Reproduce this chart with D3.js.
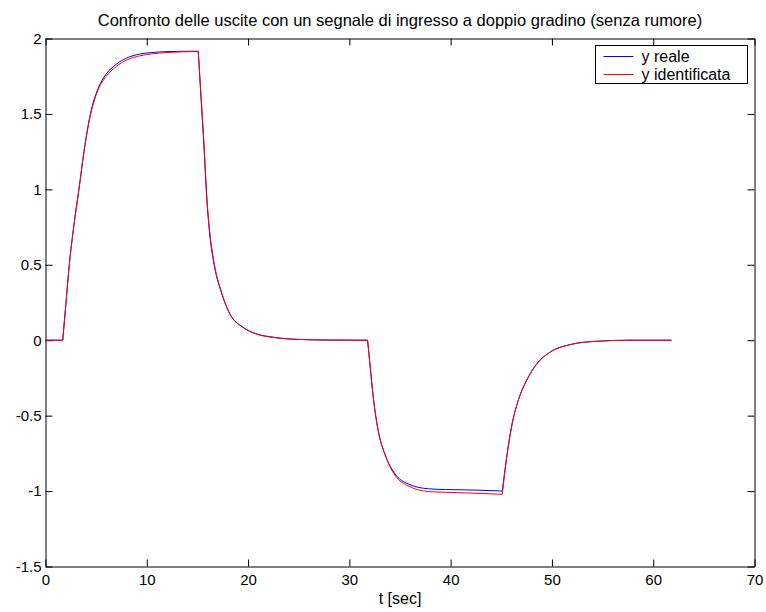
<!DOCTYPE html>
<html>
<head>
<meta charset="utf-8">
<script src="https://cdn.jsdelivr.net/npm/d3@7/dist/d3.min.js"></script>
<style>
  html, body { margin: 0; padding: 0; background: #fff; }
  svg { display: block; }
  text { font-family: "Liberation Sans", Arial, Helvetica, sans-serif; fill: #000; }
</style>
</head>
<body>
<svg id="chart" width="766" height="612"></svg>
<script>
// Sample times (s) and the two output signals
const tempo = [
  0, 1.7, 2.0, 2.35, 2.8, 3.3, 3.8, 4.4, 4.8, 5.2, 6.0, 7.0, 8.0, 9.3, 10.5, 12.0, 15.08,
  15.35, 15.65, 15.91, 16.17, 16.63, 17.3, 18.2, 19.5, 20.85, 22.5, 25.1, 28.0, 31.8,
  32.03, 32.36, 32.85, 33.5, 34.5, 35.8, 37.8, 39.5, 41.4, 43.2, 45.1,
  45.53, 46.0, 46.67, 47.5, 48.5, 49.8, 51.8, 54.4, 57.7, 61.8
];
const yReale = [
  0, 0, 0.23, 0.50, 0.76, 1.00, 1.25, 1.49, 1.595, 1.67, 1.765, 1.83, 1.87, 1.897, 1.907, 1.913, 1.916,
  1.61, 1.28, 0.95, 0.73, 0.506, 0.33, 0.175, 0.086, 0.042, 0.02, 0.005, 0.001, 0,
  -0.157, -0.378, -0.60, -0.753, -0.886, -0.952, -0.985, -0.990, -0.992, -0.995, -1.0,
  -0.776, -0.577, -0.40, -0.267, -0.157, -0.08, -0.029, -0.007, 0, 0
];
const yIdentificata = [
  0, 0, 0.23, 0.50, 0.76, 1.00, 1.25, 1.48, 1.585, 1.66, 1.75, 1.815, 1.857, 1.885, 1.898, 1.907, 1.914,
  1.63, 1.30, 0.97, 0.75, 0.52, 0.335, 0.175, 0.085, 0.04, 0.018, 0.005, 0.001, 0,
  -0.157, -0.378, -0.60, -0.755, -0.895, -0.965, -1.003, -1.008, -1.012, -1.016, -1.022,
  -0.78, -0.58, -0.40, -0.267, -0.157, -0.08, -0.029, -0.007, 0, 0
];
// instants where the input steps (sharp corners in the response)
const istantiGradino = [1.7, 15.08, 31.8, 45.1];
const xTicks = [0, 10, 20, 30, 40, 50, 60, 70];
const yTicks = [-1.5, -1, -0.5, 0, 0.5, 1, 1.5, 2];
const legendLabels = ["y reale", "y identificata"];
const seriesColors = ["#0000ff", "#ff0000"];
const titolo = "Confronto delle uscite con un segnale di ingresso a doppio gradino (senza rumore)";
const etichettaX = "t [sec]";

const svg = d3.select("#chart");
const plotL = 45.5, plotR = 754.5, plotT = 38.5, plotB = 566.5;

const x = d3.scaleLinear().domain([0, 70]).range([plotL, plotR]);
const y = d3.scaleLinear().domain([-1.5, 2]).range([plotB, plotT]);

const tickLen = 7;
const fmt = d => String(d);

const gx = svg.append("g").attr("transform", `translate(0,${plotB})`)
  .call(d3.axisBottom(x).tickValues(xTicks).tickFormat(fmt).tickSize(-tickLen).tickSizeOuter(0).tickPadding(8));
const gxTop = svg.append("g").attr("transform", `translate(0,${plotT})`)
  .call(d3.axisTop(x).tickValues(xTicks).tickFormat("").tickSize(-tickLen).tickSizeOuter(0));
const gy = svg.append("g").attr("transform", `translate(${plotL},0)`)
  .call(d3.axisLeft(y).tickValues(yTicks).tickFormat(fmt).tickSize(-tickLen).tickSizeOuter(0).tickPadding(4));
const gyRight = svg.append("g").attr("transform", `translate(${plotR},0)`)
  .call(d3.axisRight(y).tickValues(yTicks).tickFormat("").tickSize(-tickLen).tickSizeOuter(0));

[gx, gxTop, gy, gyRight].forEach(g => {
  g.selectAll("path.domain").attr("stroke", "#000").attr("stroke-width", 1);
  g.selectAll(".tick line").attr("stroke", "#000").attr("stroke-width", 1);
  g.selectAll(".tick text").attr("font-size", 15).attr("fill", "#000")
    .attr("font-family", '"Liberation Sans", Arial, sans-serif');
});

// the two output curves: smooth within each step interval, sharp at the steps
const segLine = d3.line()
  .x(d => x(d[0]))
  .y(d => y(d[1]))
  .curve(d3.curveMonotoneX);

function pathFor(vals) {
  const pts = tempo.map((t, i) => [t, vals[i]]);
  const cuts = [0, ...istantiGradino, Infinity];
  let d = "";
  for (let s = 0; s < cuts.length - 1; s++) {
    const seg = pts.filter(p => p[0] >= cuts[s] && p[0] <= cuts[s + 1]);
    if (seg.length > 1) d += segLine(seg);
  }
  return d;
}

[yReale, yIdentificata].forEach((vals, k) => {
  svg.append("path")
    .attr("d", pathFor(vals))
    .attr("fill", "none")
    .attr("stroke", seriesColors[k])
    .attr("stroke-width", 1)
    .attr("stroke-linejoin", "round");
});

// title and axis label
svg.append("text").attr("x", (plotL + plotR) / 2).attr("y", 26)
  .attr("text-anchor", "middle").attr("font-size", 16.5).text(titolo);
svg.append("text").attr("x", (plotL + plotR) / 2).attr("y", 604)
  .attr("text-anchor", "middle").attr("font-size", 16).text(etichettaX);

// legend
const lg = svg.append("g");
const lgX = 595.5, lgY = 45.5, lgW = 152, lgH = 38;
lg.append("rect").attr("x", lgX).attr("y", lgY).attr("width", lgW).attr("height", lgH)
  .attr("fill", "#fff").attr("stroke", "#000").attr("stroke-width", 1);
legendLabels.forEach((lab, i) => {
  const ly = lgY + 11 + i * 18;
  lg.append("line").attr("x1", lgX + 8).attr("x2", lgX + 38)
    .attr("y1", ly).attr("y2", ly)
    .attr("stroke", seriesColors[i]).attr("stroke-width", 1);
  lg.append("text").attr("x", lgX + 46).attr("y", ly + 5)
    .attr("font-size", 16).text(lab);
});
</script>
</body>
</html>
